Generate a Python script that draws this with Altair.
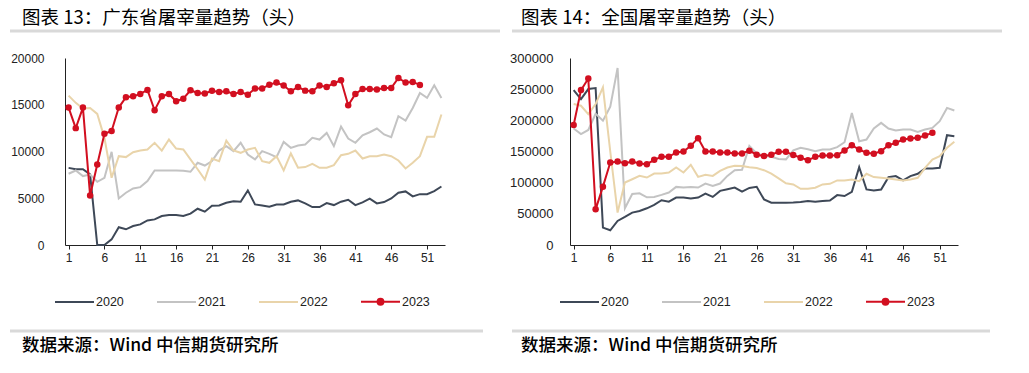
import altair as alt
import pandas as pd

years = ["2020", "2021", "2022", "2023"]
colors = ["#3e4857", "#c3c3c3", "#e9d4aa", "#d20f20"]
tick_weeks = [1, 6, 11, 16, 21, 26, 31, 36, 41, 46, 51]

title_left = "图表 13：广东省屠宰量趋势（头）"
title_right = "图表 14：全国屠宰量趋势（头）"
source_text = "数据来源：Wind 中信期货研究所"

gd_2020 = [8250, 8100, 8100, 7550, 0, 0, 600, 1900, 1680, 2030, 2200, 2630, 2740, 3100, 3200,
           3200, 3100, 3350, 3880, 3560, 4200, 4230, 4520, 4680, 4630, 5840, 4340, 4230, 4100,
           4340, 4340, 4630, 4770, 4450, 4060, 4060, 4480, 4270, 4630, 4840, 4270, 4560, 4950,
           4450, 4590, 4980, 5590, 5730, 5200, 5440, 5440, 5770, 6260]
gd_2021 = [7620, 7970, 7370, 7540, 6760, 7190, 9960, 4980, 5590, 6050, 6190, 6830, 7970, 7970,
           7970, 7970, 7950, 7830, 8790, 8500, 8970, 10100, 10570, 10040, 10930, 9680, 9150,
           10040, 9750, 9400, 11030, 10390, 10640, 10750, 11460, 11280, 11990, 10570, 12670,
           11390, 10930, 11740, 12060, 12460, 11820, 11530, 13770, 13310, 14660, 16260, 15730,
           17080, 15730]
gd_2022 = [15980, 15200, 14590, 14660, 14020, 11460, 7190, 9500, 9400, 9930, 10100, 10210,
           10930, 10100, 11280, 10320, 10210, 9150, 8100, 7000, 9250, 8970, 11170, 10110, 9860,
           10210, 10390, 8970, 8790, 9500, 7970, 9790, 8260, 8330, 8680, 8260, 8260, 8540, 9610,
           9750, 10110, 9250, 9500, 9500, 9680, 9500, 9040, 8190, 8790, 9500, 11570, 11570, 13950]
gd_2023 = [14700, 12500, 14700, 5300, 8600, 11900, 12200, 14700, 15800, 15900, 16160, 16580,
           14410, 15900, 16150, 15370, 15650, 16550, 16260, 16200, 16500, 16370, 16440, 16150,
           16370, 16080, 16730, 16730, 17150, 17370, 17050, 16440, 16900, 16510, 16440, 17050,
           16900, 17300, 17620, 14950, 16160, 16690, 16690, 16620, 16800, 16800, 17860, 17370,
           17440, 17120]

cn_2020 = [248600, 234100, 250200, 251800, 27900, 23600, 38600, 45000, 52000, 54600, 58900,
           64300, 71800, 69600, 76100, 76100, 74500, 76100, 82500, 77100, 86800, 89500, 92100,
           85700, 91500, 93300, 73200, 67900, 67800, 67800, 68000, 69000, 70500, 69400, 70500,
           71500, 80100, 78500, 85400, 124900, 89100, 87500, 89100, 108900, 110500, 103600,
           110500, 114200, 122800, 122800, 123800, 176200, 174500]
cn_2021 = [187000, 178000, 184500, 210500, 199500, 222000, 284000, 59000, 81800, 83000, 76500,
           77100, 80400, 84100, 93200, 92100, 93200, 92100, 98600, 94800, 98600, 110900, 120000,
           120800, 158800, 146800, 143300, 141500, 138000, 137400, 151800, 156000, 153500,
           150500, 153200, 153200, 156900, 164900, 211900, 166500, 169200, 186800, 195900,
           186800, 183600, 185200, 185200, 181500, 185200, 187900, 198600, 219900, 215700]
cn_2022 = [226100, 223400, 210000, 226100, 252900, 150000, 52000, 100200, 105500, 110900,
           108200, 114600, 114600, 116300, 124300, 116300, 128600, 109300, 112500, 110900,
           118900, 124300, 127000, 126800, 124900, 123500, 120000, 114500, 107000, 99000, 97200,
           90200, 90200, 91800, 97200, 98200, 103600, 103600, 105200, 102500, 114200, 108900,
           107800, 106800, 105200, 103600, 105200, 107800, 123800, 137200, 142500, 155900, 165500]
cn_2023 = [192500, 248500, 267000, 57200, 93600, 132300, 133900, 131300, 133900, 130700, 129600,
           136600, 141400, 141400, 148500, 150000, 159100, 171400, 150000, 150000, 148400,
           148400, 146800, 146800, 151300, 144900, 142700, 144900, 149700, 149700, 144300,
           140100, 136100, 141400, 143600, 143600, 144100, 151600, 160100, 153200, 147900,
           146300, 150500, 160100, 163900, 169200, 170800, 171900, 175600, 179900]


def long_df(series):
    rows = []
    for yr, vals in zip(years, series):
        for i, v in enumerate(vals):
            rows.append({"week": i + 1, "year": yr, "value": v})
    return pd.DataFrame(rows)


LABEL_FONT = "Liberation Sans"
CJK = "Noto Sans CJK SC"
DOT_LINE = "M-1,0H1M-0.15,0A0.15,0.15,0,1,1,0.15,0A0.15,0.15,0,1,1,-0.15,0"

shape_expr = f"datum.value === '2023' ? '{DOT_LINE}' : 'stroke'"
fill_expr = f"datum.value === '2023' ? '{colors[3]}' : 'transparent'"


def make_legend():
    return alt.Legend(title=None, orient="bottom", direction="horizontal",
                      symbolType=alt.ExprRef(expr=shape_expr),
                      symbolFillColor=alt.ExprRef(expr=fill_expr),
                      symbolSize=1521, symbolStrokeWidth=2, labelFontSize=12.5,
                      labelFont=LABEL_FONT, labelColor="#222", columnPadding=29,
                      symbolOffset=alt.ExprRef(expr="-11"),
                      labelOffset=alt.ExprRef(expr="1"))


def panel(series, title, ymax, ystep, width, deco):
    df = long_df(series)
    x = alt.X("week:Q",
              scale=alt.Scale(domain=[0.5, 53.5], nice=False, zero=False),
              axis=alt.Axis(values=tick_weeks, title=None, grid=False, domainColor="#222",
                            tickColor="#222", tickSize=4, labelFontSize=12, labelPadding=3,
                            labelFont=LABEL_FONT, labelColor="#222", labelFlush=False))
    y = alt.Y("value:Q",
              scale=alt.Scale(domain=[0, ymax], nice=False),
              axis=alt.Axis(values=list(range(0, ymax + 1, ystep)), format="d", title=None,
                            grid=False, ticks=False, domainColor="#222",
                            labelFontSize=deco["yfs"], labelPadding=deco["ypad"],
                            labelFont=LABEL_FONT, labelColor="#222"))
    lines = alt.Chart(df).mark_line(strokeWidth=2).encode(
        x=x, y=y,
        color=alt.Color("year:N", scale=alt.Scale(domain=years, range=colors),
                        legend=make_legend()),
        order="week:Q",
    )
    pts = alt.Chart(df).transform_filter(alt.datum.year == "2023").mark_circle(
        size=42, opacity=1, color=colors[3]).encode(x=x, y=y)
    one = pd.DataFrame({"t": [title]})
    ttl = alt.Chart(one).mark_text(align="left", baseline="middle", font=CJK, fontSize=18.5,
                                   color="#000").encode(
        x=alt.value(deco["tx"]), y=alt.value(-40), text="t:N")
    src = alt.Chart(pd.DataFrame({"t": [source_text]})).mark_text(
        align="left", baseline="middle", font=CJK, fontSize=17.5, fontWeight=500,
        color="#000").encode(x=alt.value(deco["tx"]), y=alt.value(288), text="t:N")
    rule_top = alt.Chart(one).mark_rule(color="#d9d9d9", strokeWidth=3).encode(
        x=alt.value(deco["r0"]), x2=alt.value(deco["r1"]), y=alt.value(-27))
    rule_bot = alt.Chart(one).mark_rule(color="#d9d9d9", strokeWidth=3).encode(
        x=alt.value(deco["r0"]), x2=alt.value(deco["r2"]), y=alt.value(273))
    return alt.layer(lines, pts, ttl, src, rule_top, rule_bot).properties(
        width=width, height=187)


left = panel([gd_2020, gd_2021, gd_2022, gd_2023], title_left, 20000, 5000, 380,
             {"ypad": 21, "yfs": 12, "tx": -43, "r0": -55, "r1": 435, "r2": 418})
right = panel([cn_2020, cn_2021, cn_2022, cn_2023], title_right, 300000, 50000, 388,
              {"ypad": 17, "yfs": 13, "tx": -49, "r0": -58, "r1": 432, "r2": 420})

chart = alt.hconcat(left, right, spacing=7).resolve_scale(
    x="independent", y="independent", color="independent"
).resolve_legend(color="independent").properties(
    padding={"left": 0, "top": 1, "right": 0, "bottom": 0}).configure_view(stroke=None)

chart.save("out.html", embed_options={"renderer": "svg", "actions": False})
